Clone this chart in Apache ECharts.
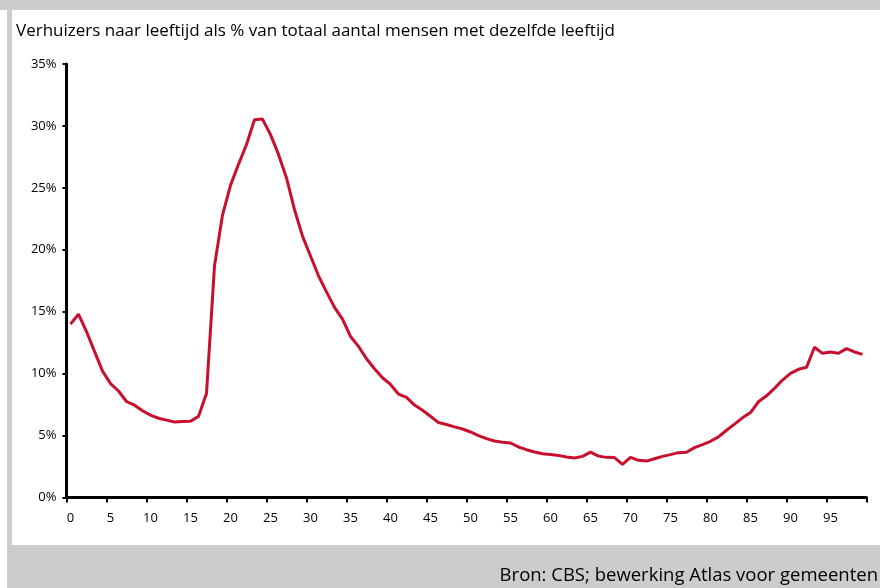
<!DOCTYPE html>
<html>
<head>
<meta charset="utf-8">
<script src="https://cdn.jsdelivr.net/npm/echarts@6/dist/echarts.min.js"></script>
<style>
html,body{margin:0;padding:0;background:#fff;}
#c{width:880px;height:588px;}
</style>
</head>
<body>
<div id="c"></div>
<script>
var titleText = 'Verhuizers naar leeftijd als % van totaal aantal mensen met dezelfde leeftijd';
var sourceText = 'Bron: CBS; bewerking Atlas voor gemeenten';
var ages = [];
for (var i = 0; i <= 99; i++) ages.push(String(i));
var moversPct = [
 14.0, 14.8, 13.4, 11.8, 10.2, 9.2, 8.6, 7.75, 7.45, 7.0,
 6.65, 6.4, 6.25, 6.1, 6.13, 6.15, 6.55, 8.4, 18.7, 22.8,
 25.2, 26.9, 28.5, 30.5, 30.55, 29.3, 27.7, 25.8, 23.25, 21.1,
 19.5, 17.9, 16.6, 15.35, 14.4, 13.0, 12.2, 11.2, 10.4, 9.67,
 9.13, 8.35, 8.08, 7.46, 7.05, 6.56, 6.05, 5.89, 5.7, 5.53,
 5.29, 5.0, 4.75, 4.56, 4.46, 4.4, 4.08, 3.86, 3.67, 3.54,
 3.48, 3.4, 3.27, 3.19, 3.32, 3.66, 3.34, 3.24, 3.22, 2.67,
 3.24, 3.0, 2.94, 3.13, 3.32, 3.46, 3.62, 3.65, 4.03, 4.27,
 4.54, 4.89, 5.43, 5.92, 6.43, 6.86, 7.73, 8.21, 8.81, 9.48,
 10.02, 10.35, 10.51, 12.13, 11.64, 11.75, 11.64, 12.02, 11.75, 11.56
];
var yMin = 0, yMax = 35, yStep = 5;

var chart = echarts.init(document.getElementById('c'), null, {renderer: 'canvas'});
var font = '"Open Sans", "Noto Sans", sans-serif';
chart.setOption({
  backgroundColor: '#ffffff',
  animation: false,
  graphic: [
    {type: 'rect', shape: {x: 0, y: 0, width: 880, height: 10}, style: {fill: '#cccccc'}, z: -10},
    {type: 'rect', shape: {x: 7, y: 0, width: 5, height: 588}, style: {fill: '#cccccc'}, z: -10},
    {type: 'rect', shape: {x: 7, y: 545, width: 873, height: 43}, style: {fill: '#cccccc'}, z: -10},
    {type: 'text', right: 2, top: 566, style: {text: sourceText, fill: '#000', font: '18.5px ' + font}, z: 10}
  ],
  title: {
    text: titleText,
    left: 11, top: 18,
    textStyle: {fontFamily: font, fontSize: 17, fontWeight: 'normal', color: '#000'}
  },
  grid: {left: 66.5, right: 13.5, top: 64, bottom: 90.5, containLabel: false},
  xAxis: {
    type: 'category',
    data: ages,
    boundaryGap: true,
    axisLine: {show: true, lineStyle: {color: '#000', width: 3}},
    axisTick: {show: true, interval: 4, length: 5, lineStyle: {color: '#000', width: 2}},
    axisLabel: {interval: 4, color: '#000', fontFamily: font, fontSize: 13, margin: 14},
    splitLine: {show: false}
  },
  yAxis: {
    type: 'value',
    min: yMin, max: yMax, interval: yStep,
    axisLine: {show: true, lineStyle: {color: '#000', width: 3}},
    axisTick: {show: true, length: 4, lineStyle: {color: '#000', width: 2}},
    axisLabel: {formatter: '{value}%', color: '#000', fontFamily: font, fontSize: 13, margin: 10},
    splitLine: {show: false}
  },
  series: [{
    type: 'line',
    data: moversPct,
    symbol: 'none',
    smooth: false,
    lineStyle: {color: '#c8102e', width: 3},
    z: 1
  }]
});
</script>
</body>
</html>
